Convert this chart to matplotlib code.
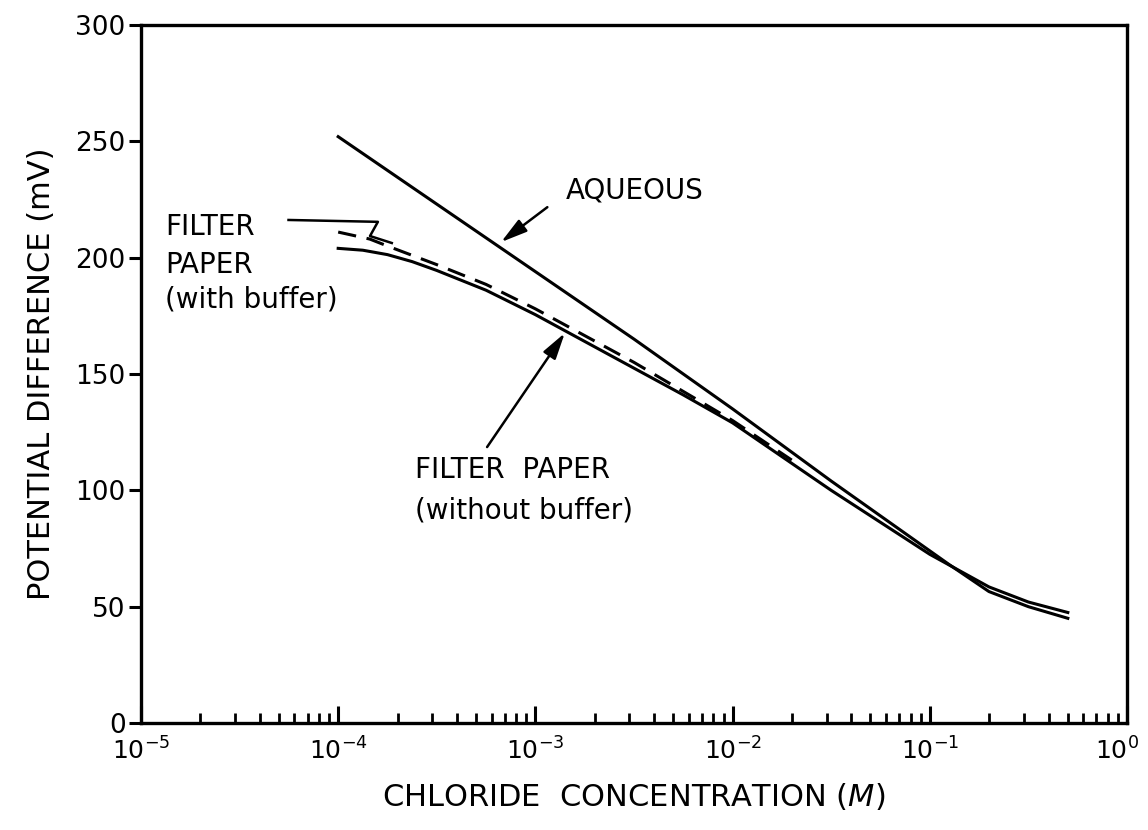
import numpy as np
import matplotlib.pyplot as plt
from matplotlib.ticker import LogLocator, NullFormatter
from matplotlib.transforms import ScaledTranslation

# chloride concentration (log10 M) and potential difference (mV)
aq_logc = [-4.0, -3.5, -3.0, -2.5, -2.0, -1.5, -1.0, -0.9, -0.7, -0.5, -0.3]
aq_mv = [252, 223, 194, 165, 135, 104, 74, 68, 56.5, 50, 45]

nobuf_logc = [-4.0, -3.875, -3.75, -3.625, -3.5, -3.25, -3.0, -2.75, -2.5,
              -2.25, -2.0, -1.5, -1.0, -0.7, -0.5, -0.3]
nobuf_mv = [204, 203.2, 201.3, 198.3, 194.5, 186, 175.5, 164, 152.5,
            141, 129, 100, 72.5, 58.5, 52, 47.5]

buf_logc = [-4.0, -3.84, -3.75, -3.5, -3.25, -3.0, -2.5, -2.0, -1.7]
buf_mv = [211, 208, 205, 197, 188.5, 178, 155, 130, 113]

# leader from the "FILTER" label to the dashed curve
leader_c = [5.6e-5, 1.59e-4, 1.45e-4, 1.87e-4]
leader_mv = [216.2, 215.4, 209.3, 206.3]

xtick_vals = [1e-5, 1e-4, 1e-3, 1e-2, 1e-1, 1e0]
xtick_labels = [r'$\mathdefault{10^{-5}}$', r'$\mathdefault{10^{-4}}$',
                r'$\mathdefault{10^{-3}}$', r'$\mathdefault{10^{-2}}$',
                r'$\mathdefault{10^{-1}}$', r'$\mathdefault{10^{0}}$']

plt.rcParams['font.family'] = 'DejaVu Sans'
plt.rcParams['axes.unicode_minus'] = False

fig = plt.figure(figsize=(11.48, 8.3), dpi=100)
ax = fig.add_axes([0.1228, 0.1289, 0.8589, 0.8410])

ax.plot(10 ** np.array(aq_logc), aq_mv, color='black', lw=2.2)
ax.plot(10 ** np.array(nobuf_logc), nobuf_mv, color='black', lw=2.2)
ax.plot(10 ** np.array(buf_logc), buf_mv, color='black', lw=2.2,
        dashes=(6, 3.5))
ax.plot(leader_c, leader_mv, color='black', lw=1.8)

ax.set_xscale('log')
ax.set_xlim(1e-5, 1)
ax.set_ylim(0, 300)
ax.set_yticks([0, 50, 100, 150, 200, 250, 300])
ax.set_xticks(xtick_vals, xtick_labels)
ax.xaxis.set_minor_locator(LogLocator(base=10, subs=np.arange(2, 10), numticks=20))
ax.xaxis.set_minor_formatter(NullFormatter())

ax.tick_params(axis='x', which='major', direction='in', length=12, width=2.2,
               labelsize=18, pad=10)
ax.tick_params(axis='x', which='minor', direction='in', length=7, width=2)
ax.tick_params(axis='y', direction='out', length=9, width=2.2, labelsize=19, pad=2)
for s in ax.spines.values():
    s.set_linewidth(2.4)

# keep the last decade label inside the figure
last = ax.get_xticklabels()[-1]
last.set_transform(last.get_transform() + ScaledTranslation(-0.1, 0, fig.dpi_scale_trans))

ax.set_xlabel(r'CHLORIDE  CONCENTRATION ($\mathit{M}$)', fontsize=22, labelpad=12)
ax.set_ylabel('POTENTIAL DIFFERENCE (mV)', fontsize=22, labelpad=14)

arrow = dict(arrowstyle='-|>,head_length=0.8,head_width=0.22', color='black',
             lw=1.8, mutation_scale=20, shrinkA=0, shrinkB=0)

ax.text(3.2e-3, 229, 'AQUEOUS', fontsize=20, ha='center', va='center')
ax.annotate('', xy=(6.7e-4, 206.7), xytext=(1.15e-3, 221.7), arrowprops=arrow)

ax.text(1.32e-5, 213, 'FILTER', fontsize=20, ha='left', va='center')
ax.text(1.32e-5, 197, 'PAPER', fontsize=20, ha='left', va='center')
ax.text(1.32e-5, 182, '(with buffer)', fontsize=20, ha='left', va='center')

ax.text(2.45e-4, 108.7, 'FILTER  PAPER', fontsize=20, ha='left', va='center')
ax.text(2.45e-4, 91.5, '(without buffer)', fontsize=20, ha='left', va='center')
ax.annotate('', xy=(1.41e-3, 167.6), xytext=(5.69e-4, 118.6), arrowprops=arrow)

fig.savefig('out.png', dpi=100)
